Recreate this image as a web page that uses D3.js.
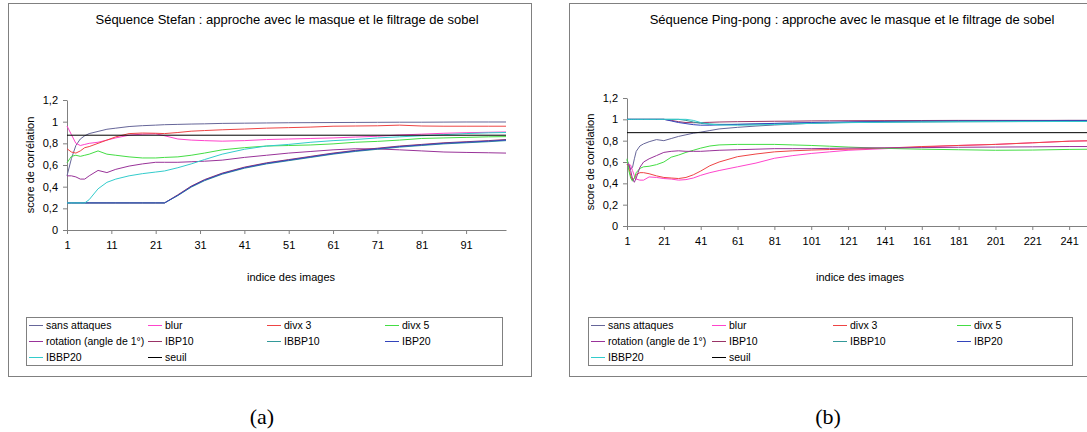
<!DOCTYPE html>
<html>
<head>
<meta charset="utf-8">
<script src="https://d3js.org/d3.v7.min.js"></script>
<style>
  body { margin: 0; background: #fff; }
  svg { display: block; font-family: "Liberation Sans", Arial, sans-serif; }
  .line { fill: none; stroke-width: 1; }
  .axis path, .axis line { stroke: #808080; }
  .axis text { fill: #000; font-size: 11px; font-family: "Liberation Sans", Arial, sans-serif; }
</style>
</head>
<body>
<div id="chart"></div>
<script>
// series names and colours (same order in both charts)
var names = ["sans attaques", "blur", "divx 3", "divx 5", "rotation (angle de 1°)",
             "IBP10", "IBBP10", "IBP20", "IBBP20", "seuil"];
var colors = ["#666699", "#ff44cc", "#ee4444", "#44dd44", "#993399",
              "#993366", "#339999", "#3344bb", "#33cccc", "#000000"];
var seuil = 0.875;
var yTicks = [0, 0.2, 0.4, 0.6, 0.8, 1, 1.2];

// (a) Stefan
var idxA = [1,2,3,4,5,6,8,10,12,15,18,21,23,26,29,32,36,41,46,51,56,61,66,71,76,81,86,91,96,100];
var xTicksA = [1,11,21,31,41,51,61,71,81,91];
var sansA   = [0.50,0.66,0.78,0.84,0.87,0.89,0.91,0.93,0.94,0.955,0.963,0.968,0.972,0.975,0.978,0.98,0.984,0.986,0.988,0.99,0.991,0.992,0.993,0.994,0.995,0.995,0.996,0.997,0.997,0.997];
var blurA   = [0.96,0.88,0.80,0.78,0.79,0.80,0.81,0.83,0.85,0.875,0.885,0.888,0.87,0.84,0.83,0.825,0.82,0.825,0.835,0.84,0.845,0.85,0.858,0.865,0.877,0.885,0.893,0.898,0.902,0.905];
var divx3A  = [0.75,0.72,0.71,0.73,0.76,0.77,0.80,0.83,0.86,0.89,0.895,0.893,0.89,0.90,0.912,0.918,0.925,0.932,0.94,0.945,0.95,0.958,0.96,0.962,0.968,0.96,0.958,0.958,0.958,0.958];
var divx5A  = [0.62,0.68,0.69,0.68,0.69,0.70,0.73,0.70,0.69,0.675,0.665,0.665,0.67,0.675,0.69,0.71,0.74,0.76,0.775,0.78,0.785,0.795,0.81,0.818,0.83,0.845,0.85,0.855,0.86,0.862];
var rotA    = [0.50,0.50,0.49,0.47,0.47,0.50,0.55,0.53,0.56,0.59,0.61,0.625,0.625,0.625,0.63,0.635,0.645,0.67,0.69,0.71,0.725,0.74,0.75,0.748,0.74,0.73,0.72,0.716,0.713,0.71];
var ibp10A  = [0.25,0.25,0.25,0.25,0.25,0.25,0.25,0.25,0.25,0.25,0.25,0.25,0.25,0.325,0.405,0.465,0.525,0.58,0.62,0.65,0.68,0.71,0.735,0.755,0.775,0.79,0.805,0.815,0.825,0.835];
var ibbp10A = [0.25,0.25,0.25,0.25,0.25,0.25,0.25,0.25,0.25,0.25,0.25,0.25,0.25,0.318,0.395,0.455,0.515,0.57,0.61,0.64,0.67,0.70,0.725,0.745,0.765,0.78,0.795,0.805,0.815,0.825];
var ibp20A  = [0.25,0.25,0.25,0.25,0.25,0.25,0.25,0.25,0.25,0.25,0.25,0.25,0.25,0.32,0.40,0.46,0.52,0.575,0.615,0.645,0.675,0.705,0.73,0.75,0.77,0.785,0.80,0.81,0.82,0.83];
var ibbp20A = [0.25,0.25,0.25,0.25,0.25,0.28,0.38,0.44,0.47,0.50,0.52,0.535,0.545,0.575,0.61,0.65,0.70,0.745,0.775,0.79,0.81,0.825,0.835,0.85,0.86,0.87,0.88,0.89,0.897,0.90];

// (b) Ping-pong
var idxB = [1,2,3,4,5,6,8,10,13,17,21,25,29,33,37,41,46,51,61,71,81,91,101,111,121,141,161,181,201,221,241,255];
var xTicksB = [1,21,41,61,81,101,121,141,161,181,201,221,241];
var sansB   = [0.62,0.58,0.53,0.55,0.63,0.70,0.75,0.77,0.79,0.81,0.80,0.82,0.84,0.855,0.87,0.88,0.895,0.91,0.925,0.937,0.947,0.955,0.963,0.968,0.972,0.978,0.982,0.985,0.987,0.988,0.99,0.99];
var blurB   = [0.59,0.58,0.57,0.52,0.47,0.44,0.43,0.43,0.46,0.455,0.445,0.44,0.43,0.435,0.45,0.475,0.50,0.52,0.555,0.59,0.635,0.66,0.68,0.695,0.71,0.725,0.74,0.755,0.765,0.78,0.795,0.80];
var divx3B  = [0.58,0.55,0.47,0.43,0.45,0.48,0.50,0.50,0.49,0.47,0.455,0.45,0.445,0.455,0.48,0.515,0.565,0.60,0.65,0.675,0.695,0.705,0.712,0.717,0.72,0.73,0.745,0.755,0.765,0.78,0.795,0.80];
var divx5B  = [0.63,0.52,0.45,0.42,0.45,0.50,0.54,0.555,0.56,0.575,0.60,0.645,0.665,0.69,0.71,0.73,0.75,0.76,0.765,0.765,0.765,0.76,0.755,0.748,0.74,0.728,0.72,0.715,0.71,0.712,0.718,0.72];
var rotB    = [0.58,0.57,0.52,0.44,0.41,0.45,0.55,0.60,0.63,0.66,0.69,0.70,0.705,0.70,0.70,0.70,0.705,0.71,0.715,0.72,0.725,0.725,0.725,0.728,0.73,0.733,0.735,0.738,0.74,0.742,0.745,0.745];
var ibp10B  = [1,1,1,1,1,1,1,1,1,1,1,0.99,0.978,0.97,0.968,0.97,0.972,0.975,0.978,0.98,0.982,0.983,0.985,0.986,0.987,0.988,0.989,0.99,0.99,0.99,0.99,0.99];
var ibbp10B = [1,1,1,1,1,1,1,1,1,1,1,1,1,0.99,0.975,0.962,0.955,0.953,0.953,0.955,0.958,0.962,0.965,0.968,0.97,0.973,0.975,0.977,0.978,0.979,0.98,0.98];
var ibp20B  = [1,1,1,1,1,1,1,1,1,1,1,0.985,0.97,0.96,0.95,0.945,0.945,0.948,0.953,0.958,0.962,0.967,0.97,0.973,0.976,0.98,0.983,0.985,0.986,0.987,0.988,0.988];
var ibbp20B = [1,1,1,1,1,1,1,1,1,1,1,1,1,1,0.99,0.97,0.955,0.947,0.945,0.947,0.952,0.957,0.962,0.966,0.969,0.973,0.976,0.978,0.979,0.98,0.98,0.98];

var svg = d3.select("#chart").append("svg")
    .attr("width", 1087)
    .attr("height", 432);

svg.append("rect").attr("width", 1087).attr("height", 432).attr("fill", "#fff");

function fmt(d) {
  return d === 0 ? "0" : d === 1 ? "1" : d.toFixed(1).replace(".", ",");
}

function drawChart(o) {
  var g = svg.append("g");

  g.append("rect")
    .attr("x", o.box[0] + 0.5).attr("y", o.box[1] + 0.5)
    .attr("width", o.box[2]).attr("height", o.box[3])
    .attr("fill", "none").attr("stroke", "#808080");

  g.append("text")
    .attr("x", o.titleX).attr("y", 24)
    .attr("text-anchor", "middle")
    .style("font-size", "13px")
    .text(o.title);

  var x = d3.scaleLinear().domain(o.xDomain).range(o.xRange);
  var y = d3.scaleLinear().domain([0, 1.2]).range(o.yRange);

  g.append("g").attr("class", "axis")
    .attr("transform", "translate(" + o.xRange[0] + ",0)")
    .call(d3.axisLeft(y).tickValues(yTicks).tickFormat(fmt).tickSize(4).tickSizeOuter(0).tickPadding(5));

  g.append("g").attr("class", "axis")
    .attr("transform", "translate(0," + o.yRange[0] + ")")
    .call(d3.axisBottom(x).tickValues(o.xTicks).tickSize(4).tickSizeOuter(0).tickPadding(7));

  g.selectAll(".axis .domain").attr("stroke", "#808080");

  g.append("text")
    .attr("transform", "translate(" + o.yLabelX + "," + (o.yRange[0] + o.yRange[1]) / 2 + ") rotate(-90)")
    .attr("text-anchor", "middle")
    .attr("dy", "0.35em")
    .style("font-size", "11px")
    .text("score de corrélation");

  g.append("text")
    .attr("x", o.xLabelX).attr("y", 281)
    .attr("text-anchor", "middle")
    .style("font-size", "11px")
    .text("indice des images");

  var line = d3.line()
    .x(function(d) { return x(d[0]); })
    .y(function(d) { return y(d[1]); });

  o.series.forEach(function(vals, k) {
    g.append("path")
      .datum(o.idx.map(function(i, j) { return [i, vals[j]]; }))
      .attr("class", "line")
      .attr("stroke", colors[k])
      .attr("d", line);
  });

  // threshold
  g.append("path")
    .datum([[o.idx[0], seuil], [o.idx[o.idx.length - 1], seuil]])
    .attr("class", "line")
    .attr("stroke", colors[9])
    .attr("stroke-width", 1.5)
    .attr("d", line);

  // legend
  var lg = g.append("g");
  lg.append("rect")
    .attr("x", o.legend[0] + 0.5).attr("y", o.legend[1] + 0.5)
    .attr("width", o.legend[2]).attr("height", o.legend[3])
    .attr("fill", "none").attr("stroke", "#808080");

  names.forEach(function(n, k) {
    var cx = o.legend[0] + o.legendCols[k % 4];
    var cy = o.legend[1] + 8 + Math.floor(k / 4) * 16;
    lg.append("line")
      .attr("x1", cx).attr("x2", cx + 14)
      .attr("y1", cy + 0.5).attr("y2", cy + 0.5)
      .attr("stroke", colors[k]).attr("stroke-width", 1);
    lg.append("text")
      .attr("x", cx + 17).attr("y", cy)
      .attr("dy", "0.35em")
      .style("font-size", "10.5px")
      .text(n);
  });

  svg.append("text")
    .attr("x", o.captionX).attr("y", 424)
    .attr("text-anchor", "middle")
    .style("font-family", "'Liberation Serif', 'Times New Roman', serif")
    .style("font-size", "22px")
    .text(o.caption);
}

drawChart({
  box: [8, 3, 523, 373],
  title: "Séquence Stefan : approche avec le masque et le filtrage de sobel",
  titleX: 287,
  xDomain: [1, 100], xRange: [67, 506], yRange: [230, 100],
  xTicks: xTicksA,
  yLabelX: 30, xLabelX: 291,
  idx: idxA,
  series: [sansA, blurA, divx3A, divx5A, rotA, ibp10A, ibbp10A, ibp20A, ibbp20A],
  legend: [26, 317, 476, 48],
  legendCols: [3, 122, 241, 359],
  caption: "(a)", captionX: 262
});

drawChart({
  box: [569, 3, 530, 373],
  title: "Séquence Ping-pong : approche avec le masque et le filtrage de sobel",
  titleX: 852,
  xDomain: [1, 261], xRange: [627, 1106], yRange: [226, 98],
  xTicks: xTicksB,
  yLabelX: 590, xLabelX: 860,
  idx: idxB,
  series: [sansB, blurB, divx3B, divx5B, rotB, ibp10B, ibbp10B, ibp20B, ibbp20B],
  legend: [588, 317, 484, 48],
  legendCols: [3, 124, 245, 369],
  caption: "(b)", captionX: 828
});
</script>
</body>
</html>
